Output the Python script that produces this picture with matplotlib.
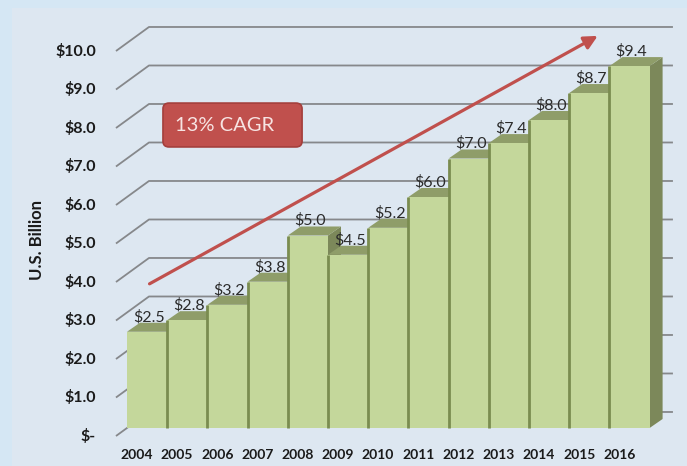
import matplotlib
matplotlib.use("Agg")
import matplotlib.pyplot as plt
from matplotlib.patches import Polygon, Rectangle, FancyBboxPatch, FancyArrowPatch
import numpy as np

plt.rcParams['font.family'] = ['Lato', 'DejaVu Sans']

years = ['2004', '2005', '2006', '2007', '2008', '2009', '2010',
         '2011', '2012', '2013', '2014', '2015', '2016']
values = [2.5, 2.8, 3.2, 3.8, 5.0, 4.5, 5.2, 6.0, 7.0, 7.4, 8.0, 8.7, 9.4]
yticks = [0, 1, 2, 3, 4, 5, 6, 7, 8, 9, 10]
ylabel = 'U.S. Billion'
cagr_text = '13% CAGR'

# style
FRONT = '#c4d79b'
TOP = '#8f9d69'
SIDE = '#7c885a'
EDGE = '#7a8c50'
GRID = '#86888b'
RED = '#c0504d'

# oblique depth offsets (data units)
DX, DY = 0.323, 0.234        # bar depth
FX, FY = -0.274, -0.208      # front plane relative to bar front
BX, BY = 0.547, 0.416        # back wall relative to bar front

fig = plt.figure(figsize=(6.87, 4.66), dpi=100)
fig.patch.set_facecolor('#d5e7f4')
ax = fig.add_axes([0, 0, 1, 1])
ax.set_facecolor('none')
ax.set_xlim(-3.659, 13.43)
ax.set_ylim(-0.987, 11.117)
ax.axis('off')
ax.add_patch(Rectangle((12 / 687, 0), 1, (466 - 8) / 466,
                       transform=fig.transFigure, facecolor='#dde7f1',
                       edgecolor='none', zorder=0))

x = np.arange(len(values))
n = len(values)

# gridlines: front diagonal then back wall horizontal
xl = -0.5 + FX
xb = -0.5 + BX
xr = n - 0.5 + 0.58
for v in yticks:
    ax.plot([xl, xb, xr], [v + FY, v + BY, v + BY], color=GRID, lw=1.3,
            zorder=1, solid_capstyle='butt')
    lab = '$-' if v == 0 else f'${v:.1f}'
    ax.text(-1.27, v + FY, lab, ha='right', va='center', fontsize=11.5,
            fontweight='bold', color='#1a1a1a')

# bars
bars = ax.bar(x, values, width=1.0, color=FRONT, edgecolor='none', linewidth=0)
for i, (b, v) in enumerate(zip(bars, values)):
    z = 3 + i * 0.01
    b.set_zorder(z + 0.005)
    l, r = i - 0.5, i + 0.5
    side = Polygon([(r, 0), (r + DX, DY), (r + DX, v + DY), (r, v)],
                   closed=True, facecolor=SIDE, edgecolor='none', zorder=z)
    top = Polygon([(l, v), (l + DX, v + DY), (r + DX, v + DY), (r, v)],
                  closed=True, facecolor=TOP, edgecolor='none', zorder=z + 0.002)
    ax.add_patch(side)
    ax.add_patch(top)
    if i > 0:
        ax.plot([l, l], [0, v], color=EDGE, lw=2.0, zorder=z + 0.007,
                solid_capstyle='butt')

for i, v in enumerate(values):
    ax.text(i + 0.05, v + DY + 0.15, f'${v:.1f}', ha='center', va='center',
            fontsize=11.5, color='#2b2b2b', zorder=10)

for i, yr in enumerate(years):
    ax.text(i + FX + 0.02, -0.70, yr, ha='center', va='center', fontsize=10,
            fontweight='bold', color='#1a1a1a')

ax.text(-2.74, 4.88, ylabel, rotation=90, ha='center', va='center',
        fontsize=12, fontweight='bold', color='#1a1a1a')

# CAGR arrow
arrow = FancyArrowPatch((0.0, 3.71), (11.27, 10.22), arrowstyle='-|>',
                        mutation_scale=20, color=RED, lw=2.3, zorder=12)
ax.add_patch(arrow)

box = FancyBboxPatch((0.395, 7.30), 3.46, 1.14,
                     boxstyle='round,pad=0,rounding_size=0.15',
                     facecolor=RED, edgecolor='#a43f3c', lw=1.2, zorder=13)
ax.add_patch(box)
ax.text(0.70, 7.87, cagr_text, ha='left', va='center', fontsize=14.5,
        color='#f7e4e3', zorder=14)

fig.savefig('out.png', dpi=100, facecolor=fig.get_facecolor())
